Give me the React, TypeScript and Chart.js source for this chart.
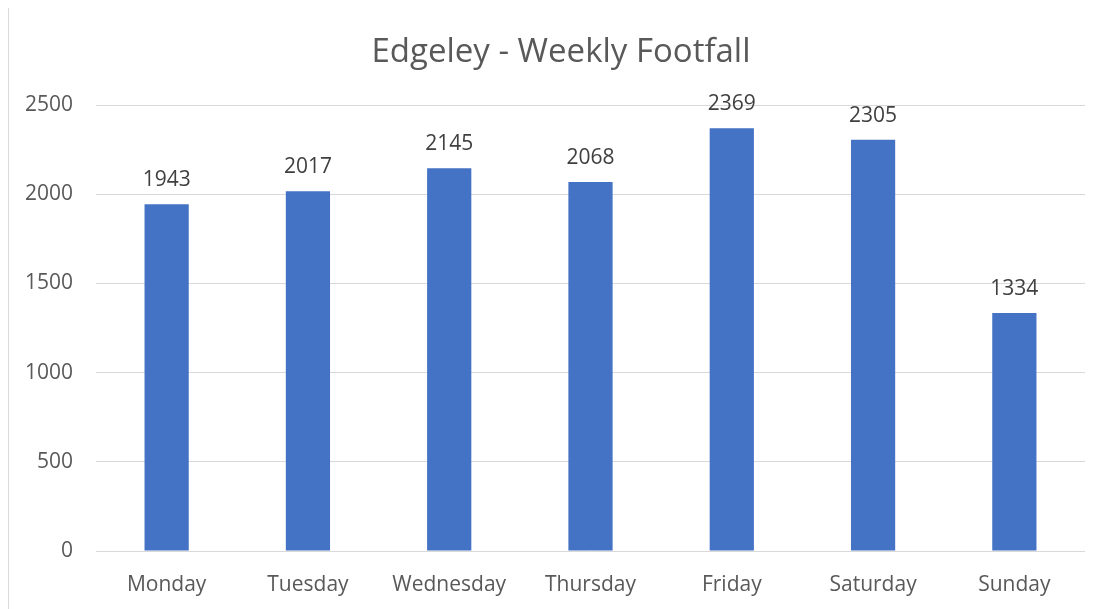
import React, { useEffect, useRef } from "react";
import { Chart, registerables } from "chart.js";

Chart.register(...registerables);

const chartTitle = "Edgeley - Weekly Footfall";
const days = ["Monday", "Tuesday", "Wednesday", "Thursday", "Friday", "Saturday", "Sunday"];
const footfall = [1943, 2017, 2145, 2068, 2369, 2305, 1334];
const yTicks = [0, 500, 1000, 1500, 2000, 2500];

const FONT = "'Open Sans', 'DejaVu Sans', sans-serif";

const dataLabelPlugin = {
  id: "dataLabels",
  afterDatasetsDraw(chart: any) {
    const ctx = chart.ctx;
    ctx.save();
    ctx.font = `21px ${FONT}`;
    ctx.fillStyle = "#404040";
    ctx.textAlign = "center";
    ctx.textBaseline = "middle";
    chart.data.datasets.forEach((ds: any, di: number) => {
      const meta = chart.getDatasetMeta(di);
      meta.data.forEach((el: any, i: number) => {
        ctx.fillText(String(ds.data[i]), el.x, el.y - 24);
      });
    });
    ctx.restore();
  },
};

const titlePlugin = {
  id: "excelTitle",
  afterDraw(chart: any) {
    const ctx = chart.ctx;
    ctx.save();
    ctx.font = `33px ${FONT}`;
    ctx.fillStyle = "#595959";
    ctx.textAlign = "center";
    ctx.textBaseline = "alphabetic";
    ctx.fillText(chartTitle, 552, 55);
    ctx.restore();
  },
};

export default function App() {
  const canvasRef = useRef<HTMLCanvasElement>(null);

  useEffect(() => {
    if (!canvasRef.current) return;
    const chart = new Chart(canvasRef.current, {
      type: "bar",
      data: {
        labels: days,
        datasets: [
          {
            data: footfall,
            backgroundColor: "#4472C4",
            borderWidth: 0,
            categoryPercentage: 1,
            barPercentage: 0.313,
          },
        ],
      },
      options: {
        animation: false,
        responsive: false,
        maintainAspectRatio: false,
        layout: { padding: { left: 0, right: 0, top: 98, bottom: 0 } },
        plugins: {
          legend: { display: false },
          tooltip: { enabled: false },
          title: { display: false },
        },
        scales: {
          x: {
            grid: { display: false },
            border: { display: false },
            ticks: {
              color: "#595959",
              font: { family: FONT, size: 21 },
              padding: 13,
              maxRotation: 0,
            },
            afterFit: (s: any) => {
              s.height = 64;
            },
          },
          y: {
            min: 0,
            max: 2500,
            afterBuildTicks: (s: any) => {
              s.ticks = yTicks.map((v) => ({ value: v }));
            },
            grid: { color: "#d9d9d9", lineWidth: 1, drawTicks: false },
            border: { display: false },
            ticks: {
              color: "#595959",
              font: { family: FONT, size: 21 },
              padding: 23,
              callback: (v: any) => String(v),
            },
            afterFit: (s: any) => {
              s.width = 87;
            },
          },
        },
      },
      plugins: [dataLabelPlugin, titlePlugin],
    });
    return () => chart.destroy();
  }, []);

  return (
    <div
      style={{
        width: 1100,
        height: 610,
        marginTop: -2,
        border: "1px solid #d9d9d9",
        boxSizing: "border-box",
        background: "#fff",
        position: "relative",
      }}
    >
      <canvas ref={canvasRef} width={1076} height={608} style={{ display: "block" }} />
    </div>
  );
}
